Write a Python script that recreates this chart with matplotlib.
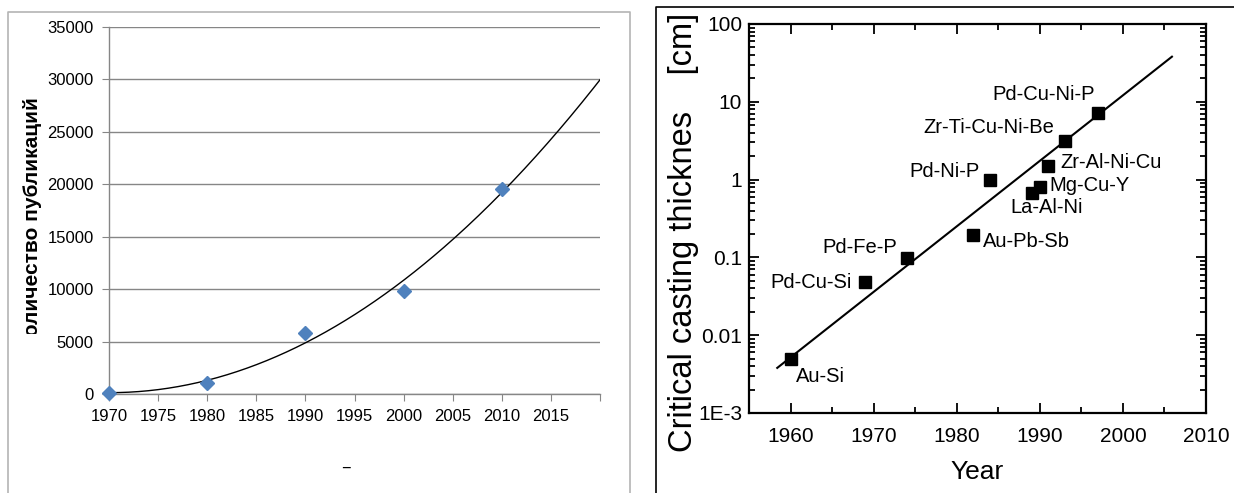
import numpy as np
import matplotlib
matplotlib.use('Agg')
import matplotlib.pyplot as plt
from matplotlib.lines import Line2D
from matplotlib.ticker import FixedLocator, FixedFormatter, MultipleLocator, LogLocator
from matplotlib.transforms import Bbox, TransformedBbox

# left chart: number of publications
pub_years = [1970, 1980, 1990, 2000, 2010]
pub_counts = [100, 1050, 5820, 9850, 19550]
pub_xticks = [1970, 1975, 1980, 1985, 1990, 1995, 2000, 2005, 2010, 2015, 2020]
pub_xlabels = ['1970', '1975', '1980', '1985', '1990', '1995', '2000', '2005', '2010', '2015', '']
pub_yticks = [0, 5000, 10000, 15000, 20000, 25000, 30000, 35000]

# right chart: critical casting thickness
alloys = ['Au-Si', 'Pd-Cu-Si', 'Pd-Fe-P', 'Au-Pb-Sb', 'Pd-Ni-P', 'La-Al-Ni',
          'Mg-Cu-Y', 'Zr-Al-Ni-Cu', 'Zr-Ti-Cu-Ni-Be', 'Pd-Cu-Ni-P']
alloy_years = [1960, 1969, 1974, 1982, 1984, 1989, 1990, 1991, 1993, 1997]
alloy_thick = [0.005, 0.048, 0.098, 0.195, 1.0, 0.68, 0.8, 1.5, 3.1, 7.2]
trend_years = [1958.4, 2005.9]
trend_thick = [0.0038, 38]
thick_ticks = [0.001, 0.01, 0.1, 1, 10, 100]
thick_labels = ['1E-3', '0.01', '0.1', '1', '10', '100']

# label placement (offset in pixels, ha)
label_pos = {
    'Au-Si': (5, -18, 'left'),
    'Pd-Cu-Si': (-14, 0, 'right'),
    'Pd-Fe-P': (-10, 11, 'right'),
    'Au-Pb-Sb': (10, -7, 'left'),
    'Pd-Ni-P': (-10, 8, 'right'),
    'La-Al-Ni': (15, -15, 'center'),
    'Mg-Cu-Y': (10, 2, 'left'),
    'Zr-Al-Ni-Cu': (12, 3, 'left'),
    'Zr-Ti-Cu-Ni-Be': (-10, 14, 'right'),
    'Pd-Cu-Ni-P': (-3, 18, 'right'),
}

W, H = 1234, 493
fig = plt.figure(figsize=(W / 100, H / 100), dpi=100)

def fx(px):
    return px / W

def fy(py):
    return 1 - py / H

# frames around the two pictures
fig.add_artist(Line2D([fx(8), fx(8), fx(630), fx(630)], [0, fy(12), fy(12), 0],
                      color='#b4b4b4', lw=1.2))
fig.add_artist(Line2D([fx(656), fx(656), 1.0], [0, fy(7), fy(7)],
                      color='black', lw=1.2))

narrow = ['Liberation Sans Narrow', 'Liberation Sans', 'DejaVu Sans']
grey = '#868686'

# ---- left chart
ax1 = fig.add_axes([fx(109), fy(394), fx(600) - fx(109), fy(27) - fy(394)])
ax1.set_xlim(1970, 2020)
ax1.set_ylim(0, 35000)
ax1.set_xticks(pub_xticks)
ax1.set_xticklabels(pub_xlabels)
ax1.set_yticks(pub_yticks)
ax1.yaxis.grid(True, color=grey, lw=1)
ax1.set_axisbelow(True)
for s in ['top', 'right']:
    ax1.spines[s].set_visible(False)
for s in ['left', 'bottom']:
    ax1.spines[s].set_color(grey)
    ax1.spines[s].set_linewidth(1)
ax1.tick_params(direction='out', length=5, color=grey, labelsize=12, pad=6)
for lab in ax1.get_xticklabels() + ax1.get_yticklabels():
    lab.set_family(narrow)

p = np.polyfit(np.array(pub_years) - 1970, pub_counts, 2)
xs = np.linspace(1970, 2020, 300)
ax1.plot(xs, np.polyval(p, xs - 1970), color='black', lw=1)
ax1.plot(pub_years, pub_counts, 'D', color='#4F81BD', ms=7, clip_on=False, zorder=5)

fig.text(fx(346), fy(461), '_', ha='center', va='center', fontsize=11)

ylab = fig.text(fx(33), fy(97), 'Количество публикаций', rotation=90, ha='center', va='top',
                fontsize=15, fontweight='bold', family=['Liberation Sans', 'DejaVu Sans'])
ylab.set_clip_box(TransformedBbox(Bbox([[0, fy(334)], [1, 1]]), fig.transFigure))
ylab.set_clip_on(True)

# ---- right chart
ax2 = fig.add_axes([fx(749), fy(413), fx(1206) - fx(749), fy(24) - fy(413)])
ax2.set_yscale('log')
ax2.set_xlim(1955, 2010)
ax2.set_ylim(1e-3, 100)
ax2.xaxis.set_major_locator(MultipleLocator(10))
ax2.xaxis.set_minor_locator(MultipleLocator(5))
ax2.yaxis.set_major_locator(FixedLocator(thick_ticks))
ax2.yaxis.set_major_formatter(FixedFormatter(thick_labels))
ax2.yaxis.set_minor_locator(LogLocator(base=10, subs=np.arange(2, 10)))
ax2.tick_params(which='both', direction='in', top=True, right=True, width=1.3)
ax2.tick_params(which='major', length=7, labelsize=15)
ax2.tick_params(which='minor', length=4)
ax2.tick_params(axis='x', pad=10)
ax2.tick_params(axis='y', pad=5)
for s in ax2.spines.values():
    s.set_linewidth(1.6)
for lab in ax2.get_xticklabels() + ax2.get_yticklabels():
    lab.set_family('Liberation Sans')

ax2.plot(trend_years, trend_thick, color='black', lw=1.5)
ax2.plot(alloy_years, alloy_thick, 's', color='black', ms=8.5)
for name, yr, th in zip(alloys, alloy_years, alloy_thick):
    dx, dy, ha = label_pos[name]
    ax2.annotate(name, (yr, th), xytext=(dx, dy), textcoords='offset pixels',
                 ha=ha, va='center', fontsize=14.5, family='Liberation Sans')

ax2.set_xlabel('Year', fontsize=19, family='Liberation Sans', labelpad=10)
fig.text(fx(684), fy(232), 'Critical casting thicknes    [cm]', rotation=90,
         ha='center', va='center', fontsize=23.5, family='Liberation Sans')

fig.savefig('out.png', dpi=100)
